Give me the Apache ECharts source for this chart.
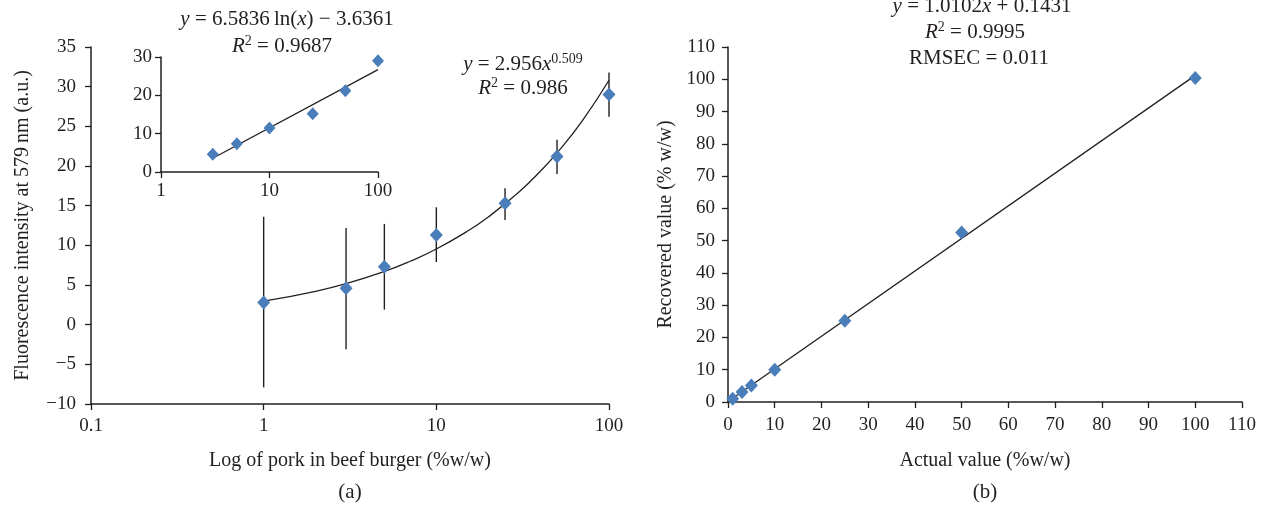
<!DOCTYPE html>
<html>
<head>
<meta charset="utf-8">
<script src="https://cdn.jsdelivr.net/npm/echarts@6/dist/echarts.min.js"></script>
<style>
  html, body { margin: 0; padding: 0; background: #fff; }
  #chart { width: 1273px; height: 508px; }
</style>
</head>
<body>
<div id="chart"></div>
<script>
// (a) main panel: pork in beef burger, log x
const porkLevels = [1, 3, 5, 10, 25, 50, 100];
const intensity = [2.8, 4.6, 7.3, 11.3, 15.3, 21.2, 29.0];
const errLow = [-7.9, -3.1, 1.9, 7.9, 13.2, 19.0, 26.2];
const errHigh = [13.6, 12.2, 12.7, 14.8, 17.2, 23.3, 31.8];
// power trendline y = 2.956x^0.509 (values as drawn)
const powerFitX = [1, 2, 3, 5, 7, 10, 15, 20, 30, 40, 50, 70, 100];
const powerFitY = [2.96, 4.21, 5.17, 6.71, 7.96, 9.54, 11.73, 13.58, 16.69, 19.33, 21.65, 25.70, 30.81];

// (a) inset
const insetLevels = [3, 5, 10, 25, 50, 100];
const insetIntensity = [4.6, 7.4, 11.5, 15.2, 21.2, 29.0];
const logFitX = [3, 100];
const logFitY = [3.6, 26.7];

// (b) recovery
const actualValue = [1, 3, 5, 10, 25, 50, 100];
const recoveredValue = [1.0, 3.1, 5.1, 10.0, 25.2, 52.5, 100.4];
const linFitX = [1, 100];
const linFitY = [1.15, 101.2];

const INK = "#231f20";
const BLUE = "#4a7ebb";
const FONT = "Liberation Serif";
const TICK_SIZE = 19;
const TITLE_SIZE = 20;

const zip = (a, b) => a.map((v, i) => [v, b[i]]);
const minus = (v) => String(v).replace("-", "\u2212");

const axisBase = {
  axisLine: { show: true, onZero: false, lineStyle: { color: INK, width: 1.5 } },
  axisTick: { show: true, inside: false, length: 6, lineStyle: { color: INK, width: 1.3 } },
  splitLine: { show: false },
  axisLabel: { color: INK, fontFamily: FONT, fontSize: TICK_SIZE },
  nameTextStyle: { color: INK, fontFamily: FONT, fontSize: TITLE_SIZE },
};

const chart = echarts.init(document.getElementById("chart"));

const textRich = {
  i: { fontFamily: FONT, fontSize: 21, fontStyle: "italic", fill: INK },
  n: { fontFamily: FONT, fontSize: 21, fill: INK },
  sup: { fontFamily: FONT, fontSize: 14, fill: INK, verticalAlign: "top", padding: [0, 0, 9, 0] },
};
const eq = (text, x, y) => ({
  type: "text",
  x: x,
  y: y,
  style: { text: text, rich: textRich, align: "center", verticalAlign: "middle", fill: INK, font: "21px " + FONT },
});

const option = {
  animation: false,
  backgroundColor: "#fff",
  grid: [
    { left: 91, top: 47, width: 518, height: 357 },
    { left: 161, top: 57, width: 217, height: 115 },
    { left: 728, top: 47, width: 514, height: 355 },
  ],
  xAxis: [
    {
      ...axisBase,
      gridIndex: 0,
      type: "log",
      logBase: 10,
      min: 0.1,
      max: 100,
      axisLabel: { ...axisBase.axisLabel, margin: 13 },
      name: "Log of pork in beef burger (%w/w)",
      nameLocation: "middle",
      nameGap: 47,
    },
    {
      ...axisBase,
      gridIndex: 1,
      type: "log",
      logBase: 10,
      min: 1,
      max: 100,
      axisLabel: { ...axisBase.axisLabel, margin: 10 },
    },
    {
      ...axisBase,
      gridIndex: 2,
      type: "value",
      min: 0,
      max: 110,
      interval: 10,
      axisLabel: { ...axisBase.axisLabel, margin: 14 },
      name: "Actual value (%w/w)",
      nameLocation: "middle",
      nameGap: 49,
    },
  ],
  yAxis: [
    {
      ...axisBase,
      gridIndex: 0,
      type: "value",
      min: -10,
      max: 35,
      interval: 5,
      axisLabel: { ...axisBase.axisLabel, margin: 15, formatter: minus },
      name: "Fluorescence intensity at 579\u2009nm (a.u.)",
      nameLocation: "middle",
      nameRotate: 90,
      nameGap: 58,
    },
    {
      ...axisBase,
      gridIndex: 1,
      type: "value",
      min: 0,
      max: 30,
      interval: 10,
      axisLabel: { ...axisBase.axisLabel, margin: 9 },
    },
    {
      ...axisBase,
      gridIndex: 2,
      type: "value",
      min: 0,
      max: 110,
      interval: 10,
      axisLabel: { ...axisBase.axisLabel, margin: 13 },
      name: "Recovered value (% w/w)",
      nameLocation: "middle",
      nameRotate: 90,
      nameGap: 52,
    },
  ],
  series: [
    {
      type: "custom",
      xAxisIndex: 0,
      yAxisIndex: 0,
      z: 2,
      encode: { x: 0, y: [1, 2] },
      data: porkLevels.map((x, i) => [x, errLow[i], errHigh[i]]),
      renderItem: (params, api) => {
        const top = api.coord([api.value(0), api.value(2)]);
        const bot = api.coord([api.value(0), api.value(1)]);
        return {
          type: "line",
          shape: { x1: top[0], y1: top[1], x2: bot[0], y2: bot[1] },
          style: { stroke: INK, lineWidth: 1.4 },
        };
      },
    },
    {
      type: "line",
      xAxisIndex: 0,
      yAxisIndex: 0,
      z: 3,
      showSymbol: false,
      smooth: true,
      lineStyle: { color: INK, width: 1.3 },
      data: zip(powerFitX, powerFitY),
    },
    {
      type: "scatter",
      xAxisIndex: 0,
      yAxisIndex: 0,
      z: 4,
      symbol: "diamond",
      symbolSize: [13, 14],
      itemStyle: { color: BLUE, opacity: 1 },
      data: zip(porkLevels, intensity),
    },
    {
      type: "line",
      xAxisIndex: 1,
      yAxisIndex: 1,
      z: 3,
      showSymbol: false,
      lineStyle: { color: INK, width: 1.3 },
      data: zip(logFitX, logFitY),
    },
    {
      type: "scatter",
      xAxisIndex: 1,
      yAxisIndex: 1,
      z: 4,
      symbol: "diamond",
      symbolSize: [12, 13],
      itemStyle: { color: BLUE, opacity: 1 },
      data: zip(insetLevels, insetIntensity),
    },
    {
      type: "line",
      xAxisIndex: 2,
      yAxisIndex: 2,
      z: 3,
      showSymbol: false,
      lineStyle: { color: INK, width: 1.3 },
      data: zip(linFitX, linFitY),
    },
    {
      type: "scatter",
      xAxisIndex: 2,
      yAxisIndex: 2,
      z: 4,
      symbol: "diamond",
      symbolSize: [13, 14],
      itemStyle: { color: BLUE, opacity: 1 },
      data: zip(actualValue, recoveredValue),
    },
  ],
  graphic: [
    eq("{i|y}{n| = 6.5836\u2009ln(}{i|x}{n|) \u2212 3.6361}", 287, 19),
    eq("{i|R}{sup|2}{n| = 0.9687}", 282, 46),
    eq("{i|y}{n| = 2.956}{i|x}{sup|0.509}", 523, 64),
    eq("{i|R}{sup|2}{n| = 0.986}", 523, 88),
    eq("{i|y}{n| = 1.0102}{i|x}{n| + 0.1431}", 982, 6),
    eq("{i|R}{sup|2}{n| = 0.9995}", 975, 32),
    eq("{n|RMSEC = 0.011}", 979, 58),
    eq("{n|(a)}", 350, 492),
    eq("{n|(b)}", 985, 492),
  ],
};

chart.setOption(option);
</script>
</body>
</html>
